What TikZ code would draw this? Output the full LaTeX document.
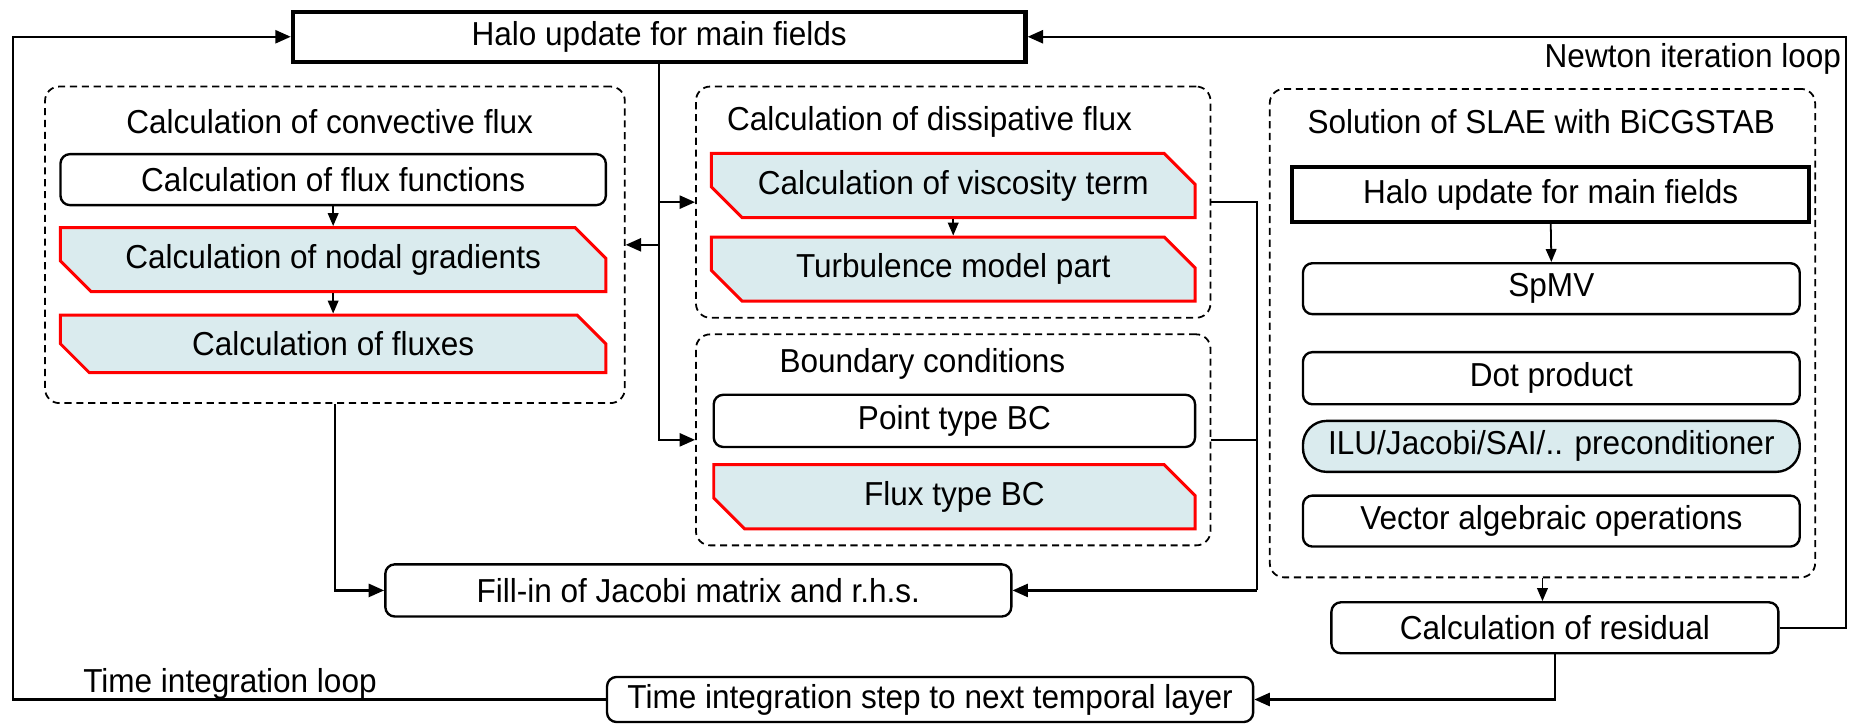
\documentclass[tikz,border=0pt]{standalone}
\usepackage{fontspec}
\setmainfont[FakeStretch=0.95]{Liberation Sans}
\usetikzlibrary{shapes.misc,arrows.meta}
\definecolor{lb}{HTML}{DAEBEE}
\begin{document}
\begin{tikzpicture}[x=1pt,y=-1pt,
 every node/.style={font=\fontsize{28}{32}\selectfont, inner sep=0pt},
 wbox/.style={draw, line width=2pt, rounded corners=8pt, fill=white},
 hbox/.style={draw, line width=3.5pt, fill=white},
 pill/.style={draw, line width=2pt, rounded corners=20pt, fill=lb},
 cbox/.style={chamfered rectangle, chamfered rectangle corners={north east,south west}, chamfered rectangle xsep=12pt, chamfered rectangle ysep=14pt, draw=red, line width=2.5pt, fill=lb},
 dbox/.style={draw, dash pattern=on 6pt off 4pt, line width=1.5pt, rounded corners=12pt},
 ln/.style={line width=2pt},
 arr/.style={ln, -{Triangle[length=13pt,width=11pt]}},
 sarr/.style={line width=1.5pt, -{Triangle[length=11pt,width=9pt]}},
]
\useasboundingbox (0,0) rectangle (1568,610);
% top halo
\node[hbox, minimum width=618pt, minimum height=42pt] (htop) at (556,31) {Halo update for main fields};
% convective
\node[dbox, minimum width=489pt, minimum height=267pt] (conv) at (282.5,206.5) {};
\node (convt) at (278,103) {Calculation of convective flux};
\node[wbox, minimum width=460pt, minimum height=43pt] (ff) at (281,151.5) {Calculation of flux functions};
\node[cbox, minimum width=460pt, minimum height=44pt] (ng) at (281,219) {Calculation of nodal gradients};
\node[cbox, minimum width=460pt, minimum height=44pt] (fx) at (281,290) {Calculation of fluxes};
\draw[sarr] (ff.south) -- (ng.north);
\draw[sarr] (ng.south) -- (fx.north);
% dissipative
\node[dbox, minimum width=434pt, minimum height=195pt] (diss) at (804,170.5) {};
\node (disst) at (784,103) {Calculation of dissipative flux};
\node[cbox, minimum width=408pt, minimum height=43pt] (visc) at (804,156.5) {Calculation of viscosity term};
\node[cbox, minimum width=408pt, minimum height=44pt] (turb) at (804,227) {Turbulence model part};
\draw[sarr] (visc.south) -- (turb.north);
% boundary
\node[dbox, minimum width=434pt, minimum height=178pt] (bc) at (804,371) {};
\node (bct) at (778,307) {Boundary conditions};
\node[wbox, minimum width=406pt, minimum height=44pt] (pt) at (805,355) {Point type BC};
\node[cbox, minimum width=406pt, minimum height=42pt] (ft) at (805,419) {Flux type BC};
% fill-in
\node[wbox, minimum width=528pt, minimum height=44pt] (fill) at (589,498) {Fill-in of Jacobi matrix and r.h.s.};
% SLAE
\node[dbox, minimum width=460pt, minimum height=412pt] (slae) at (1301,281) {};
\node (slaet) at (1300,103) {Solution of SLAE with BiCGSTAB};
\node[hbox, minimum width=436pt, minimum height=46pt] (hin) at (1308,164) {Halo update for main fields};
\node[wbox, minimum width=419pt, minimum height=43pt] (spmv) at (1308.5,243.5) {SpMV};
\node[wbox, minimum width=419pt, minimum height=44pt] (dot) at (1308.5,319) {Dot product};
\node[pill, minimum width=419pt, minimum height=43pt] (ilu) at (1308.5,376.5) {ILU/Jacobi/SAI/.. preconditioner};
\node[wbox, minimum width=419pt, minimum height=43pt] (vec) at (1308.5,439.5) {Vector algebraic operations};
\draw[sarr] (hin.south) -- (spmv.north);
% residual
\node[wbox, minimum width=377pt, minimum height=43pt] (res) at (1311.5,529.5) {Calculation of residual};
\draw[sarr] (slae.south) -- (slae.south |- res.north);
% time step
\node[wbox, minimum width=545pt, minimum height=38pt] (tstep) at (784.5,590) {Time integration step to next temporal layer};
% labels
\node[anchor=east] (nlab) at (1553,50) {Newton iteration loop};
\node (tlab) at (194,577) {Time integration loop};
% connectors
\draw[arr] (htop.south) |- (bc.west);
\draw[arr] (htop.south |- diss.west) -- (diss.west);
\draw[arr] (htop.south |- conv.east) -- (conv.east);
\coordinate (rj) at (1060,498);
\draw[ln] (diss.east) -| (rj);
\draw[ln] (bc.east) -- (bc.east -| rj);
\draw[arr] (rj) -- (fill.east);
\draw[arr] (conv.south) |- (fill.west);
\draw[arr] (res.south) |- (tstep.east);
\draw[arr] (res.east) -- ++(56,0) |- (htop.east);
\draw[arr] (tstep.west) -- ++(-500,0) |- (htop.west);
\end{tikzpicture}
\end{document}
